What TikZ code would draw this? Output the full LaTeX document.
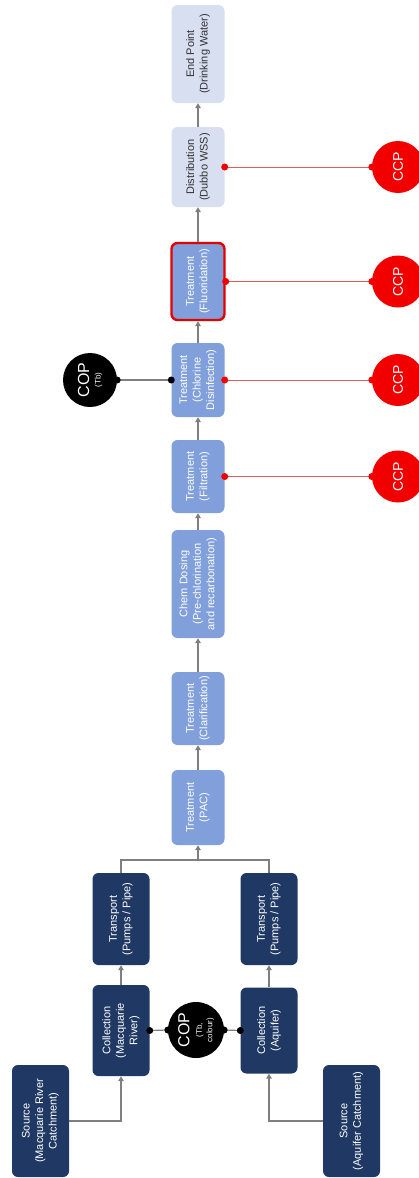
\documentclass[tikz,border=0pt]{standalone}
\usepackage{fontspec}
\setmainfont{Liberation Sans}
\usetikzlibrary{arrows.meta}
\definecolor{navy}{HTML}{1F3864}
\definecolor{midblue}{HTML}{809FDB}
\definecolor{paleblue}{HTML}{D8DFF1}
\definecolor{flowgray}{HTML}{7F7F7F}
\definecolor{ccpred}{HTML}{F20000}
\definecolor{ccpline}{HTML}{E35A5A}
\begin{document}
\begin{tikzpicture}[x=1pt,y=1pt,
  font=\fontsize{11}{13.5}\selectfont,
  stage/.style={rounded corners=6pt, align=center, inner sep=2pt, transform shape},
  darkbox/.style={stage, fill=navy, text=white, minimum height=57},
  midbox/.style={stage, fill=midblue, text=white, minimum height=53},
  palebox/.style={stage, fill=paleblue, text=black!80, minimum height=53},
  flow/.style={draw=flowgray, line width=1.4pt, -{Triangle[width=5.5pt,length=5pt]}},
  flowline/.style={draw=flowgray, line width=1.4pt},
  cop/.style={circle, fill=black, text=white, minimum size=56, inner sep=0pt, align=center, transform shape},
  ccp/.style={circle, fill=ccpred, text=white, minimum size=52, inner sep=0pt, transform shape, font=\fontsize{14}{14}\selectfont},
  blackdot/.style={circle, fill=black, inner sep=0pt, minimum size=7},
  reddot/.style={circle, fill=ccpred, inner sep=0pt, minimum size=7},
  copline/.style={draw=flowgray, line width=1.2pt},
  ccplink/.style={draw=ccpline, line width=0.9pt}]
\useasboundingbox (0,0) rectangle (419,-1178);
\clip (0,0) rectangle (419,-1178);
\begin{scope}[rotate=90, xshift=-1178, transform shape]
  % sources and collection
  \node[darkbox, minimum width=112] (srcA) at (57,-40.5) {Source\\(Macquarie River\\Catchment)};
  \node[darkbox, minimum width=112] (srcB) at (57,-351.5) {Source\\(Aquifer Catchment)};
  \node[darkbox, minimum width=91] (colA) at (147.5,-121) {Collection\\(Macquarie\\River)};
  \node[darkbox, minimum width=86] (colB) at (147.5,-269) {Collection\\(Aquifer)};
  \node[darkbox, minimum width=92] (trA) at (259,-121) {Transport\\(Pumps / Pipe)};
  \node[darkbox, minimum width=92] (trB) at (259,-269) {Transport\\(Pumps / Pipe)};
  \coordinate (jn) at (318,-198);
  % treatment train
  \node[midbox, minimum width=75] (pac) at (370.5,-198) {Treatment\\(PAC)};
  \node[midbox, minimum width=73] (clar) at (469.5,-198) {Treatment\\(Clarification)};
  \node[midbox, minimum width=108] (chem) at (594,-198) {Chem Dosing\\(Pre-chlorination\\and recarbonation)};
  \node[midbox, minimum width=73] (filt) at (701.5,-198) {Treatment\\(Filtration)};
  \node[midbox, minimum width=74] (chl) at (798,-198) {Treatment\\(Chlorine\\Disinfection)};
  \node[midbox, minimum width=77, draw=red!90!black, line width=2.4pt] (fluor) at (896.5,-198) {Treatment\\(Fluoridation)};
  \node[palebox, minimum width=80] (dist) at (1011,-198) {Distribution\\(Dubbo WSS)};
  \node[palebox, minimum width=98] (endp) at (1124,-198) {End Point\\(Drinking Water)};
  % flow arrows
  \draw[flow] (srcA.south) |- (colA.west);
  \draw[flow] (srcB.north) |- (colB.west);
  \draw[flow] (colA) -- (trA);
  \draw[flow] (colB) -- (trB);
  \draw[flowline] (trA.east) -| (jn);
  \draw[flowline] (trB.east) -| (jn);
  \draw[flow] (jn) -- (pac.west);
  \draw[flow] (pac) -- (clar);
  \draw[flow] (clar) -- (chem);
  \draw[flow] (chem) -- (filt);
  \draw[flow] (filt) -- (chl);
  \draw[flow] (chl) -- (fluor);
  \draw[flow] (fluor) -- (dist);
  \draw[flow] (dist) -- (endp);
  % control points
  \node[cop] (copA) at (148,-196) {{\fontsize{16}{16}\selectfont COP}\\[-1pt]{\fontsize{8}{9}\selectfont (Tb,}\\[-3pt]{\fontsize{8}{9}\selectfont colour)}};
  \draw[copline] (colA.south) -- (copA.north);
  \draw[copline] (colB.north) -- (copA.south);
  \node[blackdot] at (colA.south) {};
  \node[blackdot] at (copA.north) {};
  \node[blackdot] at (colB.north) {};
  \node[blackdot] at (copA.south) {};
  \node[cop, minimum size=54] (copB) at (798,-90) {{\fontsize{16}{16}\selectfont COP}\\[-2pt]{\fontsize{8}{9}\selectfont (Tb)}};
  \draw[copline] (chl.north) -- (copB.south);
  \node[blackdot] at (chl.north) {};
  \node[blackdot] at (copB.south) {};
  \foreach \stg/\lx in {dist/1011, fluor/896.5, chl/798, filt/701.5} {
    \node[ccp] (ccp-\stg) at (\lx,-398) {CCP};
    \draw[ccplink] (\stg.south) -- (ccp-\stg.north);
    \node[reddot] at (\stg.south) {};
    \node[reddot] at (ccp-\stg.north) {};
  }
\end{scope}
\end{tikzpicture}
\end{document}
